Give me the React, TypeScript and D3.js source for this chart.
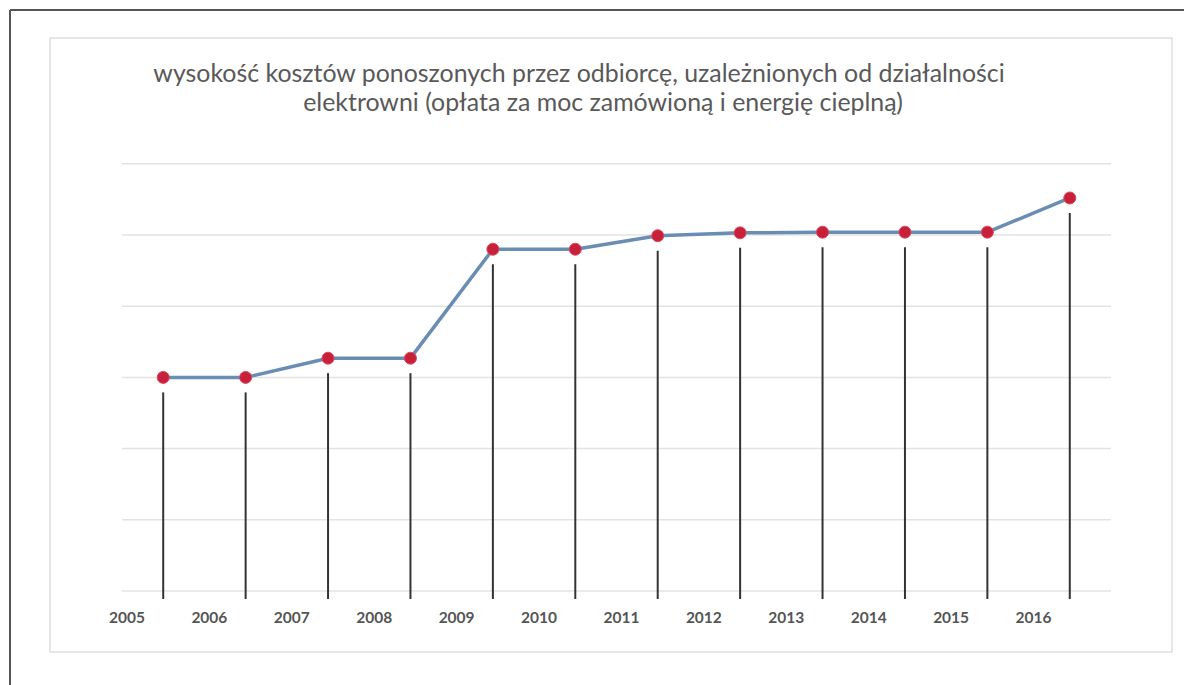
import React from "react";
import * as d3 from "d3";

const years = ["2005","2006","2007","2008","2009","2010","2011","2012","2013","2014","2015","2016"];
const values = [3.0, 3.0, 3.27, 3.27, 4.8, 4.8, 4.99, 5.03, 5.04, 5.04, 5.04, 5.52];
const gridTicks = [0, 1, 2, 3, 4, 5, 6];
const titleLines = [
  "wysokość kosztów ponoszonych przez odbiorcę, uzależnionych od działalności",
  "elektrowni (opłata za moc zamówioną i energię cieplną)",
];

export default function App() {
  const W = 1184, H = 685;
  const x = d3.scaleBand<string>().domain(years).range([122, 1111]);
  const y = d3.scaleLinear().domain([0, 6]).range([591, 163.8]);
  const bw = x.bandwidth();
  const cx = (d: string) => (x(d) as number) + bw / 2;
  const line = d3.line<number>().x((_, i) => cx(years[i])).y(v => y(v));

  return (
    <svg width={W} height={H} style={{ position: "absolute", left: 0, top: 0, background: "#fff" }}>
      <rect x={0} y={0} width={W} height={H} fill="#fff" />
      {/* outer screenshot border */}
      <line x1={10} y1={10} x2={W} y2={10} stroke="#555" strokeWidth={2} />
      <line x1={10} y1={10} x2={10} y2={H} stroke="#555" strokeWidth={2} />
      {/* chart frame */}
      <rect x={50} y={38} width={1122} height={614} fill="#fff" stroke="#dedede" strokeWidth={1.5} />
      {/* title */}
      <g fontFamily="Lato, 'Open Sans', sans-serif" fontSize={24.9} fill="#595959">
        <text x={579} y={82} textAnchor="middle">{titleLines[0]}</text>
        <text x={603} y={111} textAnchor="middle">{titleLines[1]}</text>
      </g>
      {/* gridlines */}
      <g>
        {gridTicks.map(t => (
          <line key={t} x1={122} x2={1111} y1={y(t)} y2={y(t)} stroke="#e3e3e3" strokeWidth={1.5} />
        ))}
      </g>
      {/* drop lines */}
      <g>
        {years.map((d, i) => (
          <line key={d} x1={cx(d)} x2={cx(d)} y1={y(values[i]) + 15} y2={y(0) + 8} stroke="#333" strokeWidth={2} />
        ))}
      </g>
      {/* series line */}
      <path d={line(values) || ""} fill="none" stroke="#6a8db3" strokeWidth={3.5} strokeLinejoin="round" />
      {/* markers */}
      <g>
        {years.map((d, i) => (
          <circle key={d} cx={cx(d)} cy={y(values[i])} r={6} fill="#c8203a" stroke="#d84a5c" strokeWidth={1} />
        ))}
      </g>
      {/* x labels */}
      <g fontFamily="Lato, 'Open Sans', sans-serif" fontSize={15.5} fontWeight={700} fill="#555">
        {years.map(d => (
          <text key={d} x={cx(d) - bw * 0.44} y={623} textAnchor="middle">{d}</text>
        ))}
      </g>
    </svg>
  );
}
